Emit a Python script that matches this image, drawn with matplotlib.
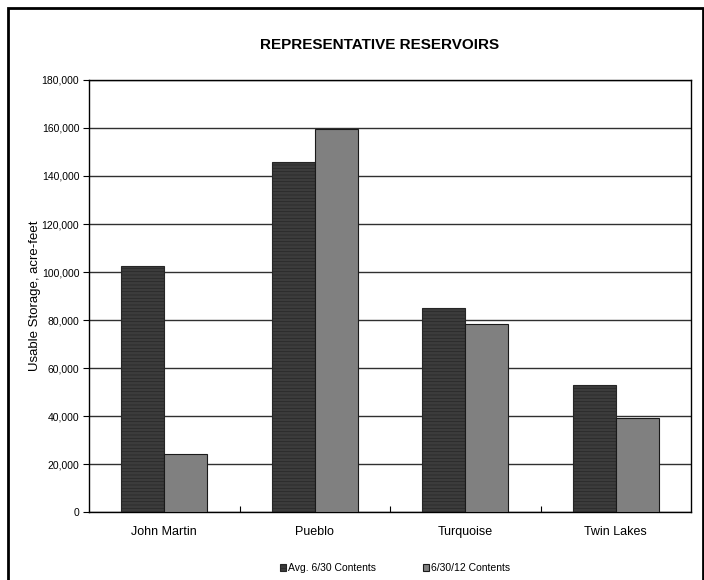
import matplotlib
matplotlib.use("Agg")
import matplotlib.pyplot as plt
import numpy as np
from matplotlib.patches import Rectangle
from matplotlib.ticker import FuncFormatter

categories = ["John Martin", "Pueblo", "Turquoise", "Twin Lakes"]
avg_contents = [102500, 146000, 85000, 52800]
contents_2012 = [24200, 159600, 78300, 39000]
series_names = ["Avg. 6/30 Contents", "6/30/12 Contents"]

plt.rcParams['font.family'] = ['Liberation Sans', 'DejaVu Sans']
plt.rcParams['hatch.linewidth'] = 0.5

W, H = 704, 580
fig = plt.figure(figsize=(W / 100, H / 100), dpi=100)
ax = fig.add_axes([89 / W, 1 - 512 / H, (691 - 89) / W, (512 - 80) / H])

x = np.arange(len(categories))
bw = 0.286
ax.bar(x - bw / 2, avg_contents, bw, color="#3c3c3c", edgecolor="#262626", linewidth=0.8,
       hatch="-----", label=series_names[0], zorder=3)
ax.bar(x + bw / 2, contents_2012, bw, color="#808080", edgecolor="#1a1a1a", linewidth=0.8,
       label=series_names[1], zorder=3)

ax.set_xlim(-0.5, len(categories) - 0.5)
ax.set_ylim(0, 180000)
ax.set_yticks(np.arange(0, 180001, 20000))
ax.yaxis.set_major_formatter(FuncFormatter(lambda v, p: f"{int(v):,}"))
ax.grid(axis="y", color="#303030", linewidth=1.0, zorder=0)
ax.set_axisbelow(True)

ax.set_xticks(x)
ax.set_xticklabels(categories, fontsize=9)
ax.tick_params(axis="x", length=0, pad=10)
ax.set_xticks(np.arange(0.5, len(categories) - 0.5, 1), minor=True)
ax.tick_params(axis="x", which="minor", direction="in", length=4, width=0.8)
ax.tick_params(axis="y", labelsize=7.5, length=4, width=0.8, direction="out", pad=3)
for s in ax.spines.values():
    s.set_color("black")
    s.set_linewidth(1.0)

ax.set_ylabel("Usable Storage, acre-feet", fontsize=9.5)
ax.yaxis.set_label_coords(-0.079, 0.5)

fig.text(380 / W, 1 - 45 / H, "REPRESENTATIVE RESERVOIRS", ha="center", va="center",
         fontsize=11, fontweight="bold")

leg = fig.legend(loc="center", bbox_to_anchor=(395 / W, 1 - 568 / H), ncol=2, frameon=False,
                 fontsize=7.5, handlelength=0.6, handleheight=0.6, handletextpad=0.2,
                 columnspacing=4.5)

fig.patches.append(Rectangle((8 / W, -0.01), (703 - 8) / W, 1 - 8 / H + 0.01,
                             transform=fig.transFigure, fill=False, edgecolor="black",
                             linewidth=2))

fig.savefig("out.png", dpi=100)
